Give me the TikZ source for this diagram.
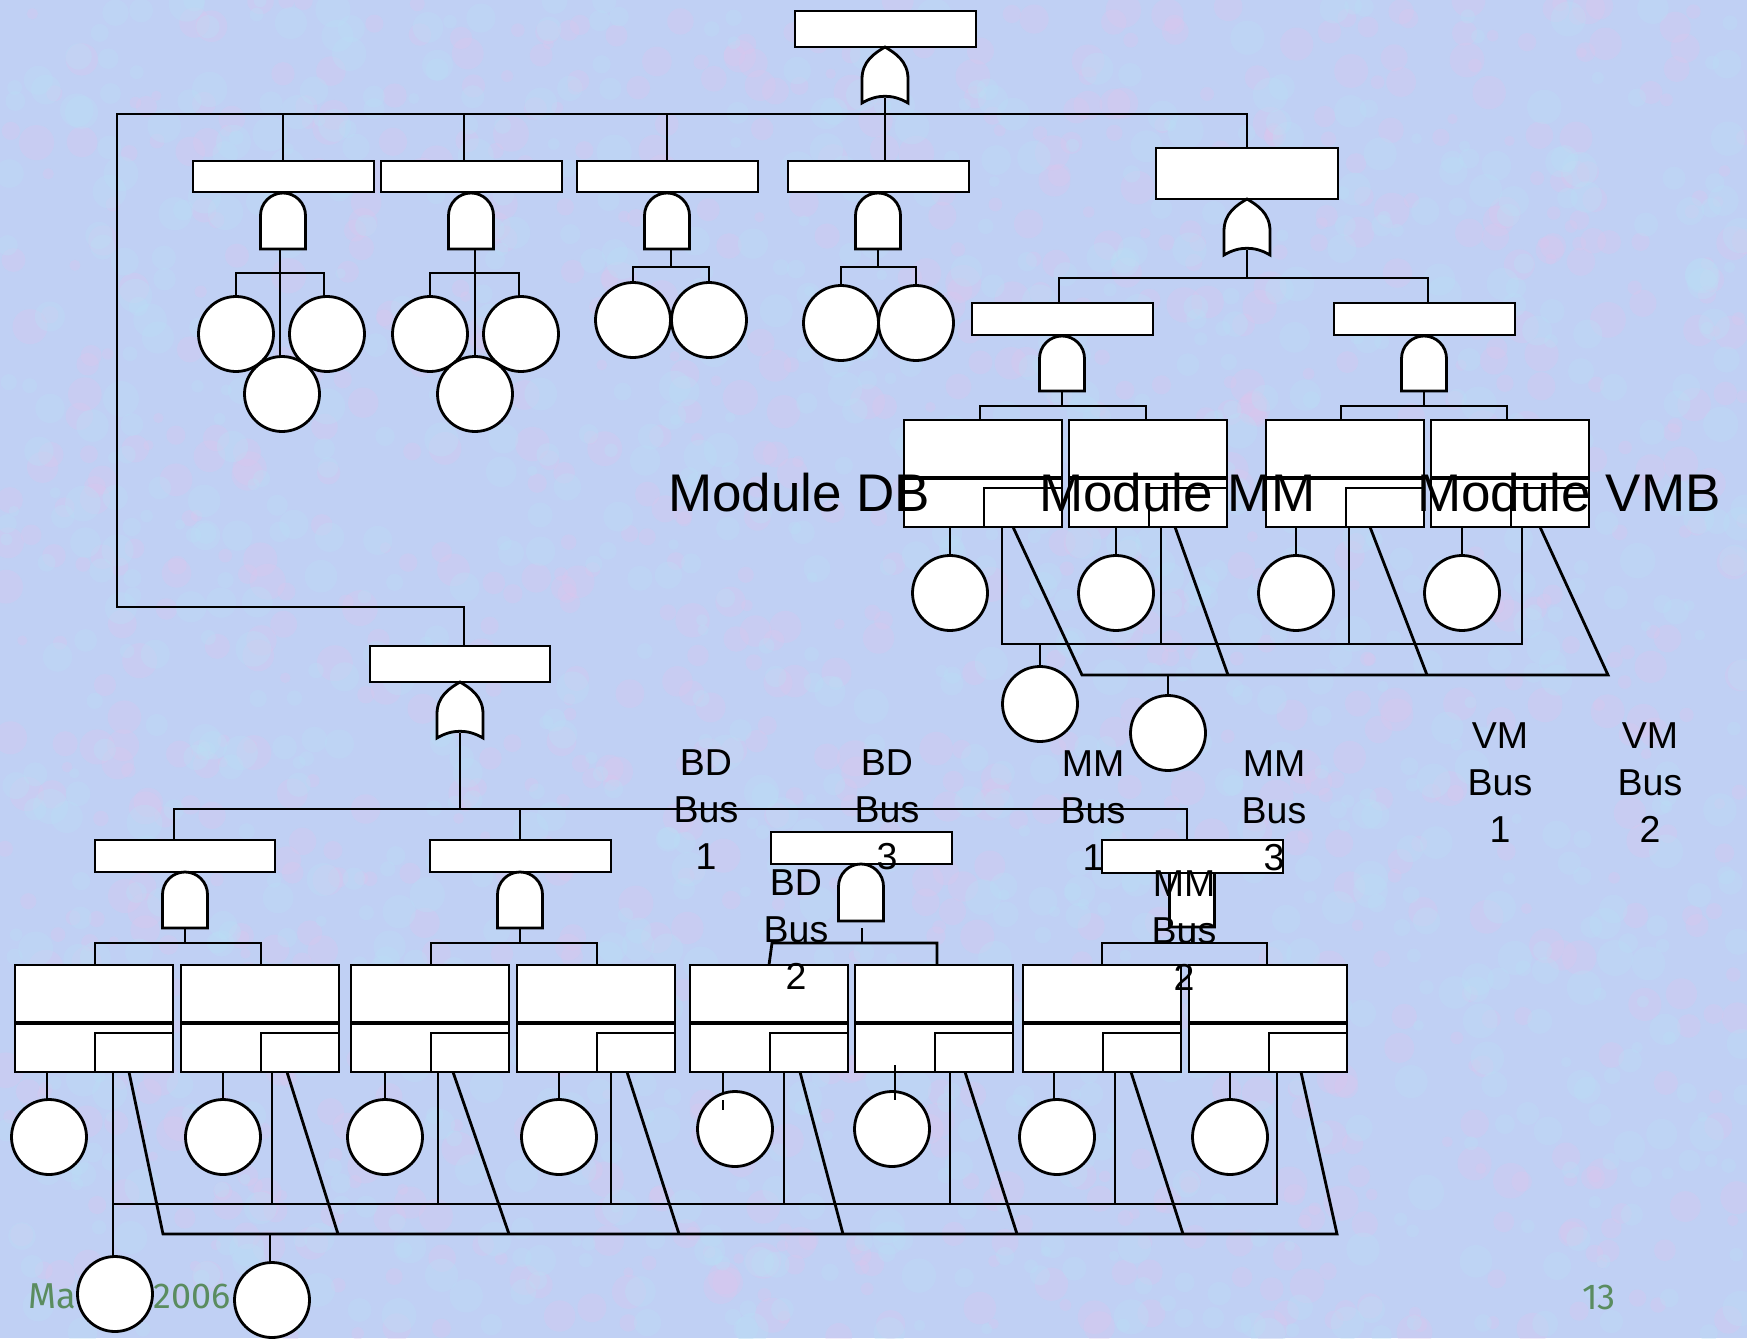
\documentclass[tikz,border=0pt]{standalone}
\usepackage{fontspec}
\setmainfont{Liberation Sans}
\newfontfamily\footfont{Fira Sans}
\definecolor{bgc}{RGB}{192,208,244}
\definecolor{bgpink}{RGB}{220,198,238}
\definecolor{bgcyan}{RGB}{186,224,246}
\definecolor{footc}{RGB}{90,140,95}
% rectangle event: name, x1, y1, x2, y2
\newcommand\FTbox[5]{\node[evt, minimum width={(#4)-(#2)}, minimum height={(#5)-(#3)}] (#1) at ({((#2)+(#4))/2},{((#3)+(#5))/2}) {};}
% AND gate: cx, top, bottom
\newcommand\AndG[3]{%
 \pgfmathsetmacro\AGl{#1-22.5}\pgfmathsetmacro\AGr{#1+22.5}%
 \pgfmathsetmacro\AGm{#2+22.5}\pgfmathsetmacro\AGk{#2+22.5-12.4}%
 \pgfmathsetmacro\AGkl{#1-12.4}\pgfmathsetmacro\AGkr{#1+12.4}%
 \draw[gate] (\AGl,#3) -- (\AGl,\AGm) .. controls (\AGl,\AGk) and (\AGkl,#2) .. (#1,#2) .. controls (\AGkr,#2) and (\AGr,\AGk) .. (\AGr,\AGm) -- (\AGr,#3) -- cycle;}
% OR gate: cx, top, bottom
\newcommand\OrG[3]{%
 \pgfmathsetmacro\OGl{#1-23}\pgfmathsetmacro\OGr{#1+23}%
 \pgfmathsetmacro\OGs{#3-24}\pgfmathsetmacro\OGc{#2+14}\pgfmathsetmacro\OGd{#2+6}%
 \pgfmathsetmacro\OGxl{#1-10}\pgfmathsetmacro\OGxr{#1+10}%
 \pgfmathsetmacro\OGb{#3-9}\pgfmathsetmacro\OGbl{#1-8}\pgfmathsetmacro\OGbr{#1+8}%
 \draw[gate] (\OGl,#3) -- (\OGl,\OGs) .. controls (\OGl,\OGc) and (\OGxl,\OGd) .. (#1,#2) .. controls (\OGxr,\OGd) and (\OGr,\OGc) .. (\OGr,\OGs) -- (\OGr,#3) .. controls (\OGbr,\OGb) and (\OGbl,\OGb) .. cycle;}
% module box: name, x0, y0
\newcommand\ModBox[3]{%
 \FTbox{#1}{#2}{#3}{#2+158}{#3+107}%
 \draw[divl] ({#2},{#3+58}) -- ({#2+158},{#3+58});%
 \draw[ln] ({#2+80},{#3+107}) -- ({#2+80},{#3+68}) -- ({#2+158},{#3+68});}
\begin{document}
\begin{tikzpicture}[x=1pt,y=-1pt,
 ln/.style={line width=2.8pt},
 divl/.style={line width=4.2pt},
 evt/.style={draw,fill=white,line width=2.8pt,rectangle,inner sep=0pt,outer sep=0pt},
 bev/.style={draw,fill=white,line width=2.8pt,circle,inner sep=0pt,outer sep=0pt,minimum size=75pt},
 gate/.style={draw,fill=white,line width=2.8pt},
 lbl/.style={inner sep=0pt,anchor=north,align=center,font=\fontsize{37.5}{47}\selectfont},
 modl/.style={inner sep=0pt,anchor=base west,font=\fontsize{53}{60}\selectfont},
 ftr/.style={inner sep=0pt,anchor=base west,text=footc,font=\footfont\fontsize{36}{40}\selectfont}]
\useasboundingbox (0,0) rectangle (1747,1338);
\fill[bgc] (0,0) rectangle (1747,1338);
% fine mottled background texture
\begin{scope}
\clip (0,0) rectangle (1747,1338);
\pgfmathsetseed{4242}
\foreach \i in {1,...,1100}{
  \pgfmathsetmacro\tx{rnd*1747}\pgfmathsetmacro\ty{rnd*1338}\pgfmathsetmacro\tr{5+rnd*13}
  \fill[bgpink,opacity=0.3] (\tx,\ty) circle[radius=\tr];}
\foreach \i in {1,...,1100}{
  \pgfmathsetmacro\tx{rnd*1747}\pgfmathsetmacro\ty{rnd*1338}\pgfmathsetmacro\tr{5+rnd*13}
  \fill[bgcyan,opacity=0.3] (\tx,\ty) circle[radius=\tr];}
\end{scope}

% ---------- top ----------
\draw[ln] (885,98) -- (885,161);
\draw[ln] (464,646) -- (464,607) -- (117,607) -- (117,114) -- (1247,114) -- (1247,148);
\draw[ln] (283,114) -- (283,161);
\draw[ln] (464,114) -- (464,161);
\draw[ln] (667,114) -- (667,161);
\FTbox{top}{795}{11}{976}{47}
\OrG{885}{47}{103}

% ---------- second level (left four) ----------
\draw[ln] (280,249) -- (280,357);
\draw[ln] (236,297) -- (236,273) -- (324,273) -- (324,297);
\draw[ln] (475,249) -- (475,357);
\draw[ln] (430,297) -- (430,273) -- (519,273) -- (519,297);
\draw[ln] (671,249) -- (671,267);
\draw[ln] (633,283) -- (633,267) -- (709,267) -- (709,283);
\draw[ln] (878,249) -- (878,267);
\draw[ln] (841,286) -- (841,267) -- (916,267) -- (916,286);
\FTbox{g1}{193}{161}{374}{192}
\FTbox{g2}{381}{161}{562}{192}
\FTbox{g3}{577}{161}{758}{192}
\FTbox{g4}{788}{161}{969}{192}
\AndG{283}{193}{249}
\AndG{471}{193}{249}
\AndG{667}{193}{249}
\AndG{878}{193}{249}
\node[bev] (g1a) at (236,334) {};
\node[bev] (g1b) at (327,334) {};
\node[bev] (g1c) at (282,394) {};
\node[bev] (g2a) at (430,334) {};
\node[bev] (g2b) at (521,334) {};
\node[bev] (g2c) at (475,394) {};
\node[bev] (g3a) at (633,320) {};
\node[bev] (g3b) at (709,320) {};
\node[bev] (g4a) at (841,323) {};
\node[bev] (g4b) at (916,323) {};

% ---------- right subtree ----------
\draw[ln] (1247,250) -- (1247,278);
\draw[ln] (1059,303) -- (1059,278) -- (1428,278) -- (1428,303);
\draw[ln] (1062,391) -- (1062,406);
\draw[ln] (1424,391) -- (1424,406);
\draw[ln] (980,420) -- (980,406) -- (1146,406) -- (1146,420);
\draw[ln] (1341,420) -- (1341,406) -- (1507,406) -- (1507,420);
\FTbox{rt}{1156}{148}{1338}{199}
\OrG{1247}{199}{255}
\FTbox{rl}{972}{303}{1153}{335}
\FTbox{rr}{1334}{303}{1515}{335}
\AndG{1062}{336}{391}
\AndG{1424}{336}{391}
% connectors below upper modules
\draw[ln] (950,527) -- (950,556);
\draw[ln] (1116,527) -- (1116,556);
\draw[ln] (1296,527) -- (1296,556);
\draw[ln] (1462,527) -- (1462,556);
\draw[ln] (1002,527) -- (1002,644) -- (1522,644) -- (1522,527);
\draw[ln] (1161,527) -- (1161,644);
\draw[ln] (1349,527) -- (1349,644);
\draw[ln] (1013,527) -- (1082,675) -- (1608,675) -- (1540,527);
\draw[ln] (1175,527) -- (1228,675);
\draw[ln] (1370,527) -- (1427,675);
\draw[ln] (1040,644) -- (1040,667);
\draw[ln] (1168,675) -- (1168,696);
\ModBox{ma}{904}{420}
\ModBox{mb}{1069}{420}
\ModBox{mc}{1266}{420}
\ModBox{md}{1431}{420}
\node[bev] (ca) at (950,593) {};
\node[bev] (cb) at (1116,593) {};
\node[bev] (cc) at (1296,593) {};
\node[bev] (cd) at (1462,593) {};
\node[bev] (cbus1) at (1040,704) {};
\node[bev] (cbus2) at (1168,733) {};

% ---------- lower subtree ----------
\draw[ln] (460,733) -- (460,809);
\draw[ln] (174,840) -- (174,809) -- (1187,809) -- (1187,840);
\draw[ln] (520,809) -- (520,840);
\draw[ln] (185,928) -- (185,943);
\draw[ln] (520,928) -- (520,943);
\draw[ln] (862,928) -- (862,943);
\draw[ln] (1192,927) -- (1192,943);
\draw[ln] (95,965) -- (95,943) -- (261,943) -- (261,965);
\draw[ln] (431,965) -- (431,943) -- (597,943) -- (597,965);
\draw[ln] (769,965) -- (772,943) -- (937,943) -- (937,965);
\draw[ln] (1102,965) -- (1102,943) -- (1267,943) -- (1267,965);
\FTbox{lb}{370}{646}{550}{682}
\OrG{460}{682}{738}
\AndG{1192}{851}{927}
\FTbox{l1}{95}{840}{275}{872}
\FTbox{l2}{430}{840}{611}{872}
\FTbox{l3}{771}{832}{952}{864}
\FTbox{l4}{1102}{840}{1283}{873}
\AndG{185}{872}{928}
\AndG{520}{872}{928}
\AndG{861}{864}{921}

% bottom modules connectors
\draw[ln] (47,1072) -- (47,1100);
\draw[ln] (223,1072) -- (223,1100);
\draw[ln] (385,1072) -- (385,1100);
\draw[ln] (559,1072) -- (559,1100);
\draw[ln] (723,1072) -- (723,1100);
\draw[ln] (1054,1072) -- (1054,1100);
\draw[ln] (1230,1072) -- (1230,1100);
\draw[ln] (113,1072) -- (113,1258);
\draw[ln] (113,1204) -- (1277,1204) -- (1277,1072);
\draw[ln] (272,1072) -- (272,1204);
\draw[ln] (438,1072) -- (438,1204);
\draw[ln] (611,1072) -- (611,1204);
\draw[ln] (784,1072) -- (784,1204);
\draw[ln] (950,1072) -- (950,1204);
\draw[ln] (1115,1072) -- (1115,1204);
\draw[ln] (129,1072) -- (163,1234) -- (1337,1234) -- (1301,1072);
\draw[ln] (287,1072) -- (338,1234);
\draw[ln] (453,1072) -- (509,1234);
\draw[ln] (627,1072) -- (679,1234);
\draw[ln] (800,1072) -- (843,1234);
\draw[ln] (965,1072) -- (1017,1234);
\draw[ln] (1131,1072) -- (1183,1234);
\draw[ln] (270,1234) -- (270,1263);
\ModBox{m1}{15}{965}
\ModBox{m2}{181}{965}
\ModBox{m3}{351}{965}
\ModBox{m4}{517}{965}
\ModBox{m5}{690}{965}
\ModBox{m6}{855}{965}
\ModBox{m7}{1023}{965}
\ModBox{m8}{1189}{965}
\node[bev] (c1) at (49,1137) {};
\node[bev] (c2) at (223,1137) {};
\node[bev] (c3) at (385,1137) {};
\node[bev] (c4) at (559,1137) {};
\node[bev] (c5) at (735,1129) {};
\node[bev] (c6) at (892,1129) {};
\node[bev] (c7) at (1057,1137) {};
\node[bev] (c8) at (1230,1137) {};
\draw[ln] (723,1100) -- (723,1110);
\draw[ln] (895,1065) -- (895,1100);

% footer (partly hidden by the circles)
\node[ftr] (f1) at (28,1308) {Ma};
\node[ftr] (f2) at (153,1308) {2006};
\node[ftr] (f3) at (1582,1309) {13};
\node[bev] (cb1) at (115,1294) {};
\node[bev] (cb2) at (272,1300) {};

% ---------- labels ----------
\node[modl] (tdb) at (668,511) {Module DB};
\node[modl] (tmm) at (1039,511) {Module MM};
\node[modl] (tvmb) at (1417,511) {Module VMB};
\node[lbl] (bd1) at (706,749) {BD\\Bus\\1};
\node[lbl] (bd3) at (887,749) {BD\\Bus\\3};
\node[lbl] (bd2) at (796,869) {BD\\Bus\\2};
\node[lbl] (mm1) at (1093,750) {MM\\Bus\\1};
\node[lbl] (mm3) at (1274,750) {MM\\Bus\\3};
\node[lbl] (mm2) at (1184,870) {MM\\Bus\\2};
\node[lbl] (vm1) at (1500,722) {VM\\Bus\\1};
\node[lbl] (vm2) at (1650,722) {VM\\Bus\\2};
\end{tikzpicture}
\end{document}
